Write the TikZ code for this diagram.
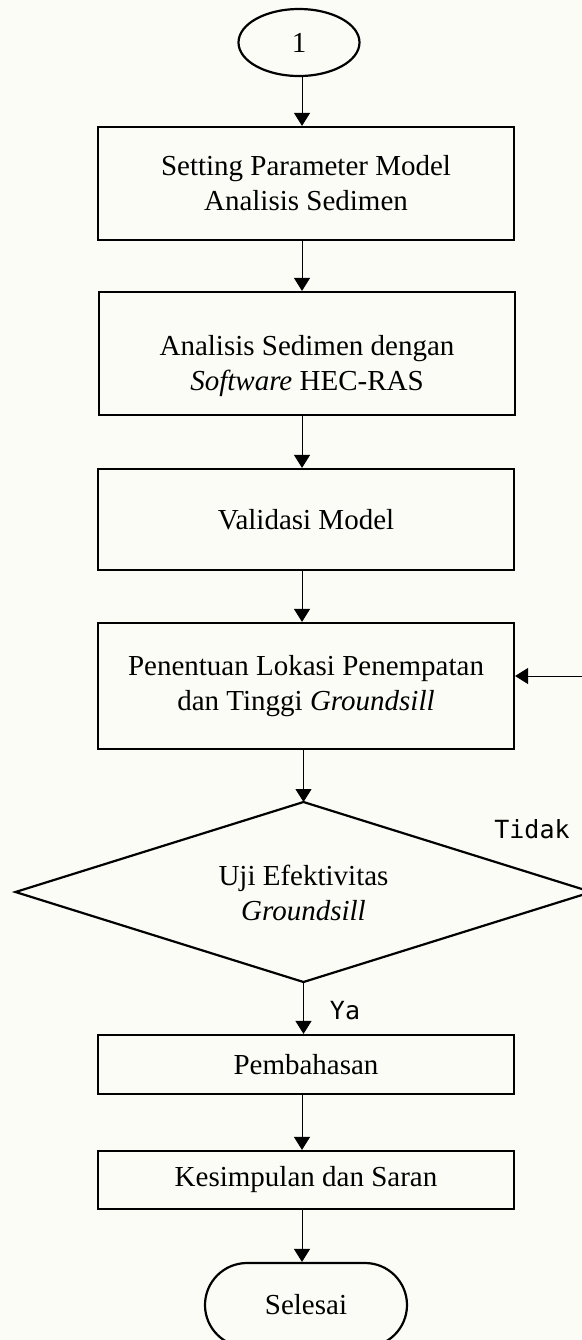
\documentclass[tikz,border=0pt]{standalone}
\usepackage{fontspec}
\setmainfont{Liberation Serif}
\newfontfamily\labfont{DejaVu Sans Mono}
\usetikzlibrary{shapes.geometric,arrows.meta}
\definecolor{bgcol}{RGB}{252,252,247}
\begin{document}
\begin{tikzpicture}[x=0.5pt,y=-0.5pt,
  box/.style={draw, line width=1.1pt, rectangle, minimum width=208pt, inner sep=0pt, align=center,
              font=\fontsize{14.5}{17.5}\selectfont},
  txt/.style={inner sep=0pt, align=center, font=\fontsize{14.5}{17.5}\selectfont},
  arr/.style={line width=0.5pt, -{Triangle[length=6.5pt,width=8pt]}},
  lab/.style={inner sep=0pt, font=\labfont\fontsize{12.5}{15}\selectfont}]
\useasboundingbox (0,0) rectangle (582,1340);
\fill[bgcol] (0,0) rectangle (582,1340);
\clip (0,0) rectangle (582,1340);
\coordinate (col) at (302,0);
\node[draw, line width=1.1pt, ellipse, minimum width=60.5pt, minimum height=33.5pt, inner sep=0pt,
      font=\fontsize{14.5}{17.5}\selectfont] (start) at (299,42.5) {1};
\node[box, minimum height=56.5pt] (b1) at (306,183.5) {Setting Parameter Model\\Analisis Sedimen};
\node[box, minimum height=61.5pt] (b2) at (307,353.5) {};
\node[txt] (b2t) at (307,366) {Analisis Sedimen dengan\\\textit{Software} HEC-RAS};
\node[box, minimum height=50.5pt] (b3) at (306,519.5) {Validasi Model};
\node[box, minimum height=63pt] (b4) at (306,686) {Penentuan Lokasi Penempatan\\dan Tinggi \textit{Groundsill}};
% decision diamond
\coordinate (dtop) at (303.5,802);
\coordinate (dright) at (591.5,892);
\coordinate (dbot) at (303.5,982);
\coordinate (dleft) at (15.5,892);
\draw[line width=1.1pt, line join=miter] (dtop) -- (dright) -- (dbot) -- (dleft) -- cycle;
\node[txt] (d) at (303.5,893) {Uji Efektivitas\\\textit{Groundsill}};
\node[box, minimum height=29.5pt] (b5) at (306,1064.5) {Pembahasan};
\node[box, minimum height=29pt] (b6) at (306,1180) {Kesimpulan dan Saran};
\node[draw, line width=1.1pt, rectangle, rounded corners=21pt, minimum width=101pt, minimum height=42pt,
      inner sep=0pt, font=\fontsize{14.5}{17.5}\selectfont] (end) at (306,1305) {Selesai};
\draw[arr] (start.south -| col) -- (b1.north -| col);
\draw[arr] (b1.south -| col) -- (b2.north -| col);
\draw[arr] (b2.south -| col) -- (b3.north -| col);
\draw[arr] (b3.south -| col) -- (b4.north -| col);
\draw[arr] (b4.south -| dtop) -- (dtop);
\draw[arr] (dbot) -- (b5.north -| dbot);
\draw[arr] (b5.south -| col) -- (b6.north -| col);
\draw[arr] (b6.south -| col) -- (end.north -| col);
\coordinate (lp) at (610,676);
\draw[arr] (dright) -- (dright -| lp) -- (lp) -- (lp -| b4.east);
\node[lab] (tidak) at (532,829) {Tidak};
\node[lab] (ya) at (345,1011) {Ya};
\end{tikzpicture}
\end{document}
